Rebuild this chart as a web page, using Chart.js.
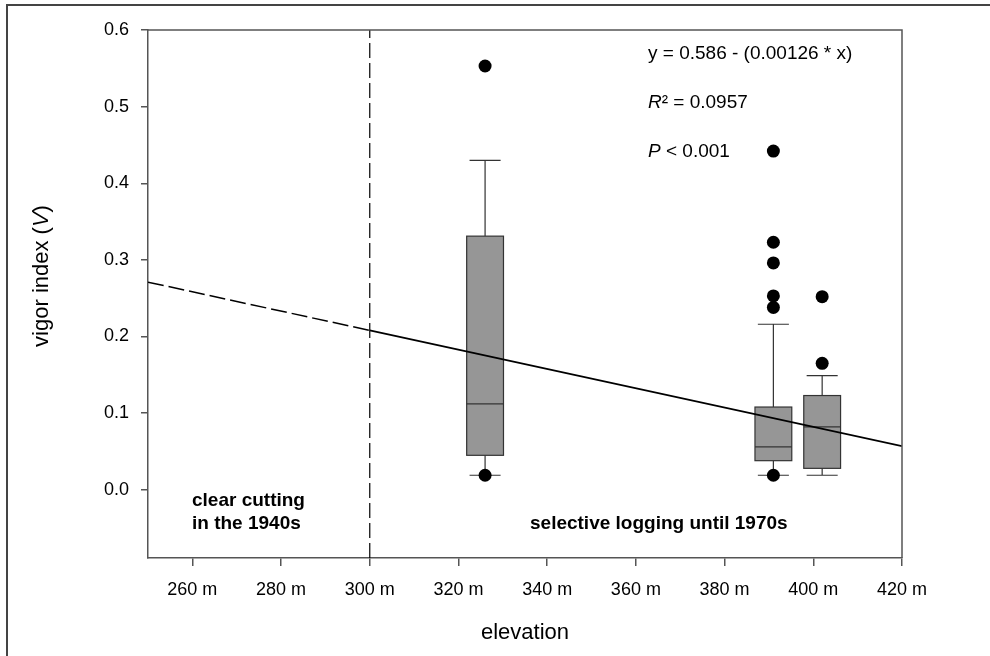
<!DOCTYPE html>
<html>
<head>
<meta charset="utf-8">
<script src="https://cdn.jsdelivr.net/npm/chart.js@4/dist/chart.umd.min.js"></script>
<style>
html, body { margin: 0; padding: 0; background: #fff; }
#wrap { width: 990px; height: 656px; }
</style>
</head>
<body>
<div id="wrap"><canvas id="myChart" width="990" height="656"></canvas></div>
<script>
'use strict'

// box plots, one per elevation
const elevations = [326, 391, 402];
const whiskerLow = [0.019, 0.019, 0.019];
const q1 = [0.045, 0.038, 0.028];
const medians = [0.112, 0.056, 0.082];
const q3 = [0.331, 0.108, 0.123];
const whiskerHigh = [0.430, 0.216, 0.149];

// outliers
const outlierX = [326, 326, 391, 391, 391, 391, 391, 391, 402, 402];
const outlierY = [0.553, 0.019, 0.442, 0.323, 0.296, 0.253, 0.238, 0.019, 0.252, 0.165];

// regression line (dashed part, then solid part)
const fitX = [250, 300, 420];
const fitY = [0.271, 0.208, 0.057];

// divider between the two management zones
const dividerX = 300;

const xTicks = [260, 280, 300, 320, 340, 360, 380, 400, 420];
const yTicks = [0.0, 0.1, 0.2, 0.3, 0.4, 0.5, 0.6];
const xMin = 250;
const xMax = 420;
const yMin = -0.089;
const yMax = 0.6;

const FONT = 'Arial, "Liberation Sans", Helvetica, sans-serif';
const AXIS = '#555';

const boxPlugin = {
  id: 'boxPlugin',
  beforeDatasetsDraw(chart) {
    const ctx = chart.ctx;
    const xs = chart.scales.x;
    const ys = chart.scales.y;
    const half = 4.15;
    const cap = 3.5;
    ctx.save();
    for (let i = 0; i < elevations.length; i++) {
      const xl = xs.getPixelForValue(elevations[i] - half);
      const xr = xs.getPixelForValue(elevations[i] + half);
      const xc = xs.getPixelForValue(elevations[i]);
      const cl = xs.getPixelForValue(elevations[i] - cap);
      const cr = xs.getPixelForValue(elevations[i] + cap);
      const yLo = ys.getPixelForValue(whiskerLow[i]);
      const yQ1 = ys.getPixelForValue(q1[i]);
      const yMed = ys.getPixelForValue(medians[i]);
      const yQ3 = ys.getPixelForValue(q3[i]);
      const yHi = ys.getPixelForValue(whiskerHigh[i]);

      ctx.strokeStyle = '#333';
      ctx.lineWidth = 1.2;
      ctx.beginPath();
      ctx.moveTo(xc, yQ3); ctx.lineTo(xc, yHi);
      ctx.moveTo(cl, yHi); ctx.lineTo(cr, yHi);
      ctx.moveTo(xc, yQ1); ctx.lineTo(xc, yLo);
      ctx.moveTo(cl, yLo); ctx.lineTo(cr, yLo);
      ctx.stroke();

      ctx.fillStyle = '#969696';
      ctx.fillRect(xl, yQ3, xr - xl, yQ1 - yQ3);
      ctx.strokeRect(xl, yQ3, xr - xl, yQ1 - yQ3);

      ctx.beginPath();
      ctx.moveTo(xl, yMed); ctx.lineTo(xr, yMed);
      ctx.stroke();
    }
    ctx.restore();
  }
};

function drawMixed(ctx, parts, x, y, align) {
  let total = 0;
  for (const p of parts) {
    ctx.font = p.font;
    total += ctx.measureText(p.text).width;
  }
  let cx = align === 'center' ? x - total / 2 : x;
  for (const p of parts) {
    ctx.font = p.font;
    ctx.fillText(p.text, cx, y);
    cx += ctx.measureText(p.text).width;
  }
}

const textPlugin = {
  id: 'textPlugin',
  afterDraw(chart) {
    const ctx = chart.ctx;
    const area = chart.chartArea;
    ctx.save();

    // frame: top and right side of the plot
    ctx.strokeStyle = AXIS;
    ctx.lineWidth = 1.5;
    ctx.beginPath();
    ctx.moveTo(area.left, area.top);
    ctx.lineTo(area.right, area.top);
    ctx.lineTo(area.right, area.bottom);
    ctx.stroke();

    // outer border of the figure
    ctx.strokeStyle = '#444';
    ctx.lineWidth = 2;
    ctx.beginPath();
    ctx.moveTo(7, 656);
    ctx.lineTo(7, 5);
    ctx.lineTo(990, 5);
    ctx.stroke();

    ctx.fillStyle = '#000';
    ctx.textBaseline = 'middle';
    ctx.textAlign = 'left';
    const reg = '19px ' + FONT;
    const ita = 'italic 19px ' + FONT;
    drawMixed(ctx, [{text: 'y = 0.586 - (0.00126 * x)', font: reg}], 648, 54, 'left');
    drawMixed(ctx, [{text: 'R', font: ita}, {text: '\u00b2 = 0.0957', font: reg}], 648, 103, 'left');
    drawMixed(ctx, [{text: 'P', font: ita}, {text: ' < 0.001', font: reg}], 648, 152, 'left');

    const bold = 'bold 19px ' + FONT;
    drawMixed(ctx, [{text: 'clear cutting', font: bold}], 192, 501, 'left');
    drawMixed(ctx, [{text: 'in the 1940s', font: bold}], 192, 524, 'left');
    drawMixed(ctx, [{text: 'selective logging until 1970s', font: bold}], 530, 524, 'left');

    // axis titles
    const title = '22px ' + FONT;
    const titleIt = 'italic 22px ' + FONT;
    drawMixed(ctx, [{text: 'elevation', font: title}], 525, 633, 'center');
    ctx.translate(42, 276);
    ctx.rotate(-Math.PI / 2);
    drawMixed(ctx, [{text: 'vigor index (', font: title}, {text: 'V', font: titleIt}, {text: ')', font: title}], 0, 0, 'center');
    ctx.restore();
  }
};

const ctx = document.getElementById('myChart').getContext('2d');

const outliers = outlierX.map((x, i) => ({x: x, y: outlierY[i]}));

const chart = new Chart(ctx, {
  type: 'scatter',
  data: {
    datasets: [
      {
        label: 'divider',
        data: [{x: dividerX, y: yMin}, {x: dividerX, y: yMax}],
        showLine: true,
        borderColor: '#000',
        borderWidth: 1.2,
        borderDash: [15, 5],
        pointRadius: 0
      },
      {
        label: 'fit (extrapolated)',
        data: [{x: fitX[0], y: fitY[0]}, {x: fitX[1], y: fitY[1]}],
        showLine: true,
        borderColor: '#000',
        borderWidth: 1.5,
        borderDash: [16, 5],
        pointRadius: 0
      },
      {
        label: 'fit',
        data: [{x: fitX[1], y: fitY[1]}, {x: fitX[2], y: fitY[2]}],
        showLine: true,
        borderColor: '#000',
        borderWidth: 1.8,
        pointRadius: 0
      },
      {
        label: 'outliers',
        data: outliers,
        pointRadius: 6.5,
        pointBackgroundColor: '#000',
        pointBorderWidth: 0
      }
    ]
  },
  options: {
    responsive: false,
    animation: false,
    devicePixelRatio: 1,
    layout: { padding: { top: 30, right: 88, left: 0, bottom: 0 } },
    plugins: {
      legend: { display: false },
      tooltip: { enabled: false }
    },
    scales: {
      x: {
        type: 'linear',
        min: xMin,
        max: xMax,
        afterBuildTicks: (scale) => { scale.ticks = xTicks.map(v => ({value: v})); },
        afterFit: (scale) => { scale.height = 98; },
        ticks: {
          color: '#000',
          font: { size: 18, family: FONT },
          padding: 13,
          maxRotation: 0,
          callback: (v) => v + ' m'
        },
        grid: { drawOnChartArea: false, tickLength: 8, color: AXIS, lineWidth: 1.5 },
        border: { color: AXIS, width: 1.5 }
      },
      y: {
        min: yMin,
        max: yMax,
        afterBuildTicks: (scale) => { scale.ticks = yTicks.map(v => ({value: v})); },
        afterFit: (scale) => { scale.width = 148; },
        ticks: {
          color: '#000',
          font: { size: 18, family: FONT },
          padding: 12,
          callback: (v) => v.toFixed(1)
        },
        grid: { drawOnChartArea: false, tickLength: 7, color: AXIS, lineWidth: 1.5 },
        border: { color: AXIS, width: 1.5 }
      }
    }
  },
  plugins: [boxPlugin, textPlugin]
});
</script>
</body>
</html>
